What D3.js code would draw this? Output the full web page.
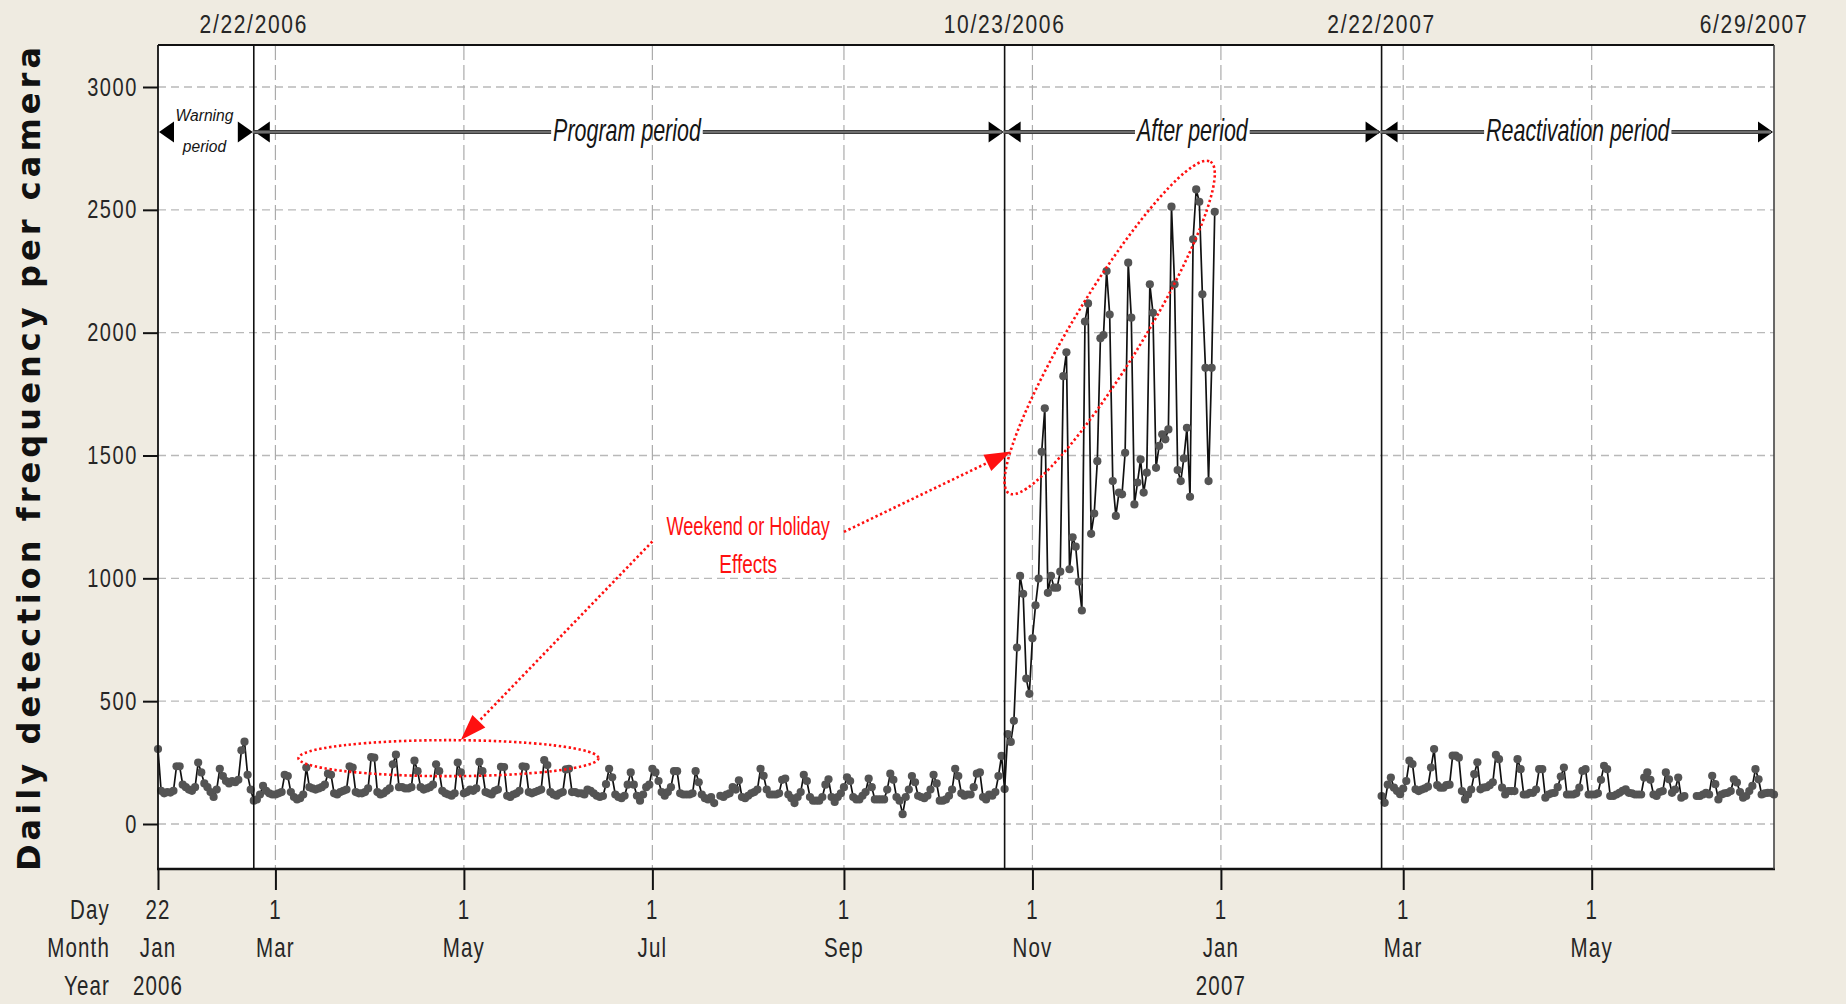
<!DOCTYPE html>
<html>
<head>
<meta charset="utf-8">
<script src="https://cdn.jsdelivr.net/npm/d3@7"></script>
<style>
  html, body { margin: 0; padding: 0; background: #efebe1; }
  svg { display: block; }
</style>
</head>
<body>
<svg id="chart" width="1846" height="1004"></svg>
<script>
// ---- Daily detections per camera (one value per day, null = no record) ----
const warningStart = "2006-01-22";
const warningValues = [305,135,125,130,128,135,235,235,160,150,140,135,150,250,210,165,150,130,110,140,225,195,175,165,175,170,180,300,335,200,140];

const programStart = "2006-02-22";
const programValues = [
  95,100,120,155,135,125,120,
  120,125,130,200,195,130,110,
  100,105,120,230,150,145,140,
  145,150,160,205,200,125,120,
  130,135,140,235,230,130,125,
  125,130,145,272,270,130,120,
  125,135,145,243,282,150,150,
  145,145,150,258,215,150,140,
  145,150,160,243,215,135,125,
  120,115,125,250,210,125,130,
  140,135,145,253,215,130,125,
  120,135,140,233,232,115,110,
  120,125,135,235,233,130,125,
  130,135,140,260,240,130,120,
  115,125,130,222,225,130,130,
  125,125,120,140,135,125,115,
  110,114,162,225,190,120,110,
  105,115,160,210,160,115,95,
  120,150,160,225,210,175,130,
  115,130,150,215,215,125,120,
  120,120,125,215,170,120,105,
  100,110,85,null,115,110,120,
  125,150,140,178,110,105,115,
  125,130,140,225,196,140,120,
  120,120,125,180,185,120,105,
  85,110,130,200,175,110,95,
  95,95,110,160,182,110,90,
  110,125,150,190,175,110,100,
  100,115,130,185,150,100,100,
  100,100,140,205,180,110,95,
  40,110,140,195,170,115,110,
  105,115,140,200,165,95,95,
  100,115,140,225,195,125,115,
  120,120,150,205,210,110,100,
  120,115,130,195,277
];

const afterStart = "2006-10-23";
const afterValues = [
  142,366,334,420,718,1010,937,
  592,530,756,890,999,1515,1692,
  941,1010,962,962,1027,1823,1920,
  1037,1167,1129,986,869,2045,2119,
  1181,1264,1477,1977,1990,2251,2074,
  1396,1254,1349,1342,1511,2285,2061,
  1301,1390,1484,1349,1430,2197,2081,
  1450,1539,1586,1566,1606,2513,2197,
  1441,1396,1488,1613,1332,2380,2583,
  2533,2156,1857,1396,1857,2492
];

const reactivationStart = "2007-02-22";
const reactivationValues = [
  114,86,160,189,148,134,121,
  144,175,258,244,141,134,140,
  145,152,230,305,158,148,148,
  158,160,278,278,270,134,100,
  120,140,203,251,141,148,150,
  158,170,281,264,148,120,134,
  134,134,264,223,120,120,127,
  127,140,223,223,107,120,125,
  127,150,193,230,120,120,120,
  125,148,216,223,120,120,120,
  125,180,237,223,114,114,120,
  127,135,141,127,125,120,120,
  120,189,210,180,120,114,130,
  134,210,182,127,140,189,107,
  114,null,null,null,114,114,120,
  127,120,196,162,100,120,125,
  127,134,182,169,130,107,114,
  134,155,223,182,120,125,127,
  127,120
];

// ---- Periods, axes and labels ----
const periodBounds = ["2006-01-22", "2006-02-22", "2006-10-23", "2007-02-22", "2007-06-29"];
const boundaryLabels = ["2/22/2006", "10/23/2006", "2/22/2007", "6/29/2007"];
const periodNames = [["Warning", "period"], ["Program period"], ["After period"], ["Reactivation period"]];
const periodLabelAt = [0.485, 0.497, 0.498, 0.5];   // label position along each arrow

const yTicks = [0, 500, 1000, 1500, 2000, 2500, 3000];
const xTickDates = ["2006-01-22", "2006-03-01", "2006-05-01", "2006-07-01", "2006-09-01", "2006-11-01", "2007-01-01", "2007-03-01", "2007-05-01"];
const xTickDay = ["22", "1", "1", "1", "1", "1", "1", "1", "1"];
const xTickMonth = ["Jan", "Mar", "May", "Jul", "Sep", "Nov", "Jan", "Mar", "May"];
const xTickYear = ["2006", "", "", "", "", "", "2007", "", ""];
const xRowNames = ["Day", "Month", "Year"];

const yTitle = "Daily detection frequency per camera";
const noteLines = ["Weekend or Holiday", "Effects"];
// annotation anchors in data units [date, value]
const noteAnchor = ["2006-08-01", 1185];
const noteArrows = [
  { from: ["2006-07-01", 1150], to: ["2006-04-30", 342] },
  { from: ["2006-09-01", 1189], to: ["2006-10-25", 1516] }
];
const noteRings = [
  { center: ["2006-04-26", 268], rx: 150, ry: 18, angle: 0 },
  { center: ["2006-11-26", 2021], rx: 194, ry: 35, angle: -58.7 }
];

// ---- Setup ----
const W = 1846, H = 1004;
const plot = { left: 158, right: 1774, top: 45, bottom: 869 };
const FONT = "'Liberation Sans', Arial, sans-serif";
const TEXT = "#262626";
const parse = d3.timeParse("%Y-%m-%d");
const bounds = periodBounds.map(parse);

const x = d3.scaleTime().domain([bounds[0], bounds[4]]).range([plot.left, plot.right]);
const y = d3.scaleLinear().domain([0, 3000]).range([824, 87]);

const svg = d3.select("#chart");

function squeeze(sel, k) {
  sel.each(function () {
    const t = d3.select(this);
    const x0 = +t.attr("x") || 0;
    t.attr("x", x0 / k).attr("transform", `scale(${k},1)`);
  });
}

function label(parent, px, py, str, o = {}) {
  const g = parent.append("g").attr("transform", `translate(${px},${py})`);
  const t = g.append("text")
    .attr("transform", `scale(${o.k || 1},1)`)
    .attr("text-anchor", o.anchor || "middle")
    .attr("font-family", o.family || FONT)
    .attr("font-size", o.size || 26)
    .attr("font-style", o.style || "normal")
    .attr("font-weight", o.weight || "normal")
    .attr("letter-spacing", o.spacing || 0)
    .attr("fill", o.fill || "#151515")
    .text(str);
  return t;
}

function expand(start, values) {
  const s = parse(start);
  return values.map((v, i) => ({ date: d3.timeDay.offset(s, i), value: v }));
}

const mainSeries = [
  ...expand(warningStart, warningValues),
  ...expand(programStart, programValues),
  ...expand(afterStart, afterValues)
];
const reactSeries = expand(reactivationStart, reactivationValues);

// background and plot area
svg.append("rect").attr("width", W).attr("height", H).attr("fill", "#efebe1");
svg.append("rect")
  .attr("x", plot.left).attr("y", plot.top)
  .attr("width", plot.right - plot.left).attr("height", plot.bottom - plot.top)
  .attr("fill", "#ffffff");

// gridlines
const grid = svg.append("g");
grid.selectAll("line.hgrid").data(yTicks).join("line").attr("class", "hgrid")
  .attr("x1", plot.left).attr("x2", plot.right)
  .attr("y1", d => y(d)).attr("y2", d => y(d))
  .attr("stroke", "#b9b9b9").attr("stroke-width", 1.3).attr("stroke-dasharray", "8,5");
grid.selectAll("line.vgrid").data(xTickDates.slice(1).map(parse)).join("line").attr("class", "vgrid")
  .attr("x1", d => x(d)).attr("x2", d => x(d))
  .attr("y1", plot.top).attr("y2", plot.bottom)
  .attr("stroke", "#ababab").attr("stroke-width", 1.2).attr("stroke-dasharray", "15,5");

// data
const line = d3.line()
  .defined(d => d.value != null)
  .x(d => x(d.date))
  .y(d => y(d.value));

const dataG = svg.append("g");
[mainSeries, reactSeries].forEach(series => {
  dataG.append("path").datum(series)
    .attr("d", line)
    .attr("fill", "none")
    .attr("stroke", "#111")
    .attr("stroke-width", 1.7);
});
dataG.selectAll("circle")
  .data([...mainSeries, ...reactSeries].filter(d => d.value != null))
  .join("circle")
  .attr("cx", d => x(d.date))
  .attr("cy", d => y(d.value))
  .attr("r", 4.1)
  .attr("fill", "#545454");

// period boundary lines
svg.append("g").selectAll("line").data(bounds.slice(1, 4)).join("line")
  .attr("x1", d => x(d)).attr("x2", d => x(d))
  .attr("y1", plot.top).attr("y2", plot.bottom)
  .attr("stroke", "#111").attr("stroke-width", 1.6);

// plot frame
const frame = svg.append("g");
frame.append("line").attr("x1", plot.left).attr("x2", plot.right).attr("y1", plot.top).attr("y2", plot.top)
  .attr("stroke", "#111").attr("stroke-width", 2.2);
frame.append("line").attr("x1", plot.left - 1).attr("x2", plot.right + 1).attr("y1", plot.bottom).attr("y2", plot.bottom)
  .attr("stroke", "#111").attr("stroke-width", 2.6);
frame.append("line").attr("x1", plot.left).attr("x2", plot.left).attr("y1", plot.top).attr("y2", plot.bottom)
  .attr("stroke", "#111").attr("stroke-width", 1.8);
frame.append("line").attr("x1", plot.right).attr("x2", plot.right).attr("y1", plot.top).attr("y2", plot.bottom)
  .attr("stroke", "#444").attr("stroke-width", 1.6);

// period arrows
const arrowY = 132, headLen = 15, headHalf = 10.5;
const arrows = svg.append("g");
function head(tipX, dir) {
  arrows.append("path")
    .attr("d", `M${tipX},${arrowY} L${tipX - dir * headLen},${arrowY - headHalf} L${tipX - dir * headLen},${arrowY + headHalf} Z`)
    .attr("fill", "#000");
}
function shaft(xa, xb) {
  if (xb <= xa) return;
  arrows.append("line").attr("x1", xa).attr("x2", xb).attr("y1", arrowY).attr("y2", arrowY)
    .attr("stroke", "#3c3c3c").attr("stroke-width", 4);
  arrows.append("line").attr("x1", xa).attr("x2", xb).attr("y1", arrowY).attr("y2", arrowY)
    .attr("stroke", "#a0a0a0").attr("stroke-width", 1.2);
}
periodNames.forEach((names, i) => {
  const x0 = x(bounds[i]) + 1, x1 = x(bounds[i + 1]) - 1;
  const cx = x0 + periodLabelAt[i] * (x1 - x0);
  head(x0, -1);
  head(x1, 1);
  if (names.length === 2) {
    label(arrows, cx, 121, names[0], { size: 17, k: 0.92, style: "italic" });
    label(arrows, cx, 152, names[1], { size: 17, k: 0.92, style: "italic" });
  } else {
    const k = 0.67;
    const t = label(arrows, cx, 141, names[0], { size: 32, k: k, style: "italic" });
    const w = t.node().getComputedTextLength() * k;
    shaft(x0 - 2, cx - w / 2 - 2);
    shaft(cx + w / 2 + 2, x1 - 2);
  }
});

// boundary date labels above the plot
const topLabels = svg.append("g");
boundaryLabels.forEach((s, i) => {
  const px = i === boundaryLabels.length - 1 ? x(bounds[i + 1]) - 20 : x(bounds[i + 1]);
  label(topLabels, px, 33, s, { size: 25, k: 0.84, spacing: 2, fill: TEXT });
});

// y axis
const yAxis = svg.append("g").attr("transform", `translate(${plot.left},0)`)
  .call(d3.axisLeft(y).tickValues(yTicks).tickSize(15).tickPadding(5).tickFormat(d3.format("d")));
yAxis.select(".domain").remove();
yAxis.selectAll(".tick line").attr("stroke", "#111").attr("stroke-width", 2);
yAxis.selectAll(".tick text")
  .attr("font-family", FONT).attr("font-size", 25).attr("fill", TEXT)
  .attr("letter-spacing", 2)
  .call(squeeze, 0.8);

// x axis ticks and three label rows
const xDates = xTickDates.map(parse);
const xAxis = svg.append("g").attr("transform", `translate(0,${plot.bottom})`)
  .call(d3.axisBottom(x).tickValues(xDates).tickSize(21).tickFormat(() => ""));
xAxis.select(".domain").remove();
xAxis.selectAll(".tick line").attr("stroke", "#111").attr("stroke-width", 2);

const rowY = [919, 957, 995];
const rows = [xTickDay, xTickMonth, xTickYear];
const xLabels = svg.append("g");
rows.forEach((labels, r) => {
  label(xLabels, 110, rowY[r], xRowNames[r], { size: 27, k: 0.76, spacing: 1.5, anchor: "end", fill: TEXT });
  labels.forEach((s, i) => {
    if (s) label(xLabels, x(xDates[i]), rowY[r], s, { size: 27, k: 0.76, spacing: 1.5, fill: TEXT });
  });
});

// y axis title
svg.append("text")
  .attr("transform", `translate(40,${(plot.top + plot.bottom) / 2 + 2}) rotate(-90)`)
  .attr("text-anchor", "middle")
  .attr("font-family", "'DejaVu Sans', Verdana, sans-serif")
  .attr("font-weight", "bold")
  .attr("font-size", 32)
  .attr("fill", "#111")
  .attr("textLength", 824)
  .attr("lengthAdjust", "spacing")
  .text(yTitle);

// weekend / holiday annotation
const red = "#ff1010";
const note = svg.append("g");
const pt = p => [x(parse(p[0])), y(p[1])];
const [nx, ny] = pt(noteAnchor);
label(note, nx, ny + 2, noteLines[0], { size: 26, k: 0.7, fill: red });
label(note, nx, ny + 40, noteLines[1], { size: 26, k: 0.73, fill: red });

noteRings.forEach(r => {
  const [cx, cy] = pt(r.center);
  note.append("ellipse")
    .attr("transform", `translate(${cx},${cy}) rotate(${r.angle})`)
    .attr("rx", r.rx).attr("ry", r.ry)
    .attr("fill", "none").attr("stroke", red)
    .attr("stroke-width", 2.6).attr("stroke-dasharray", "2.4,2.6");
});

noteArrows.forEach(a => {
  const [x1, y1] = pt(a.from);
  const [x2, y2] = pt(a.to);
  const ang = Math.atan2(y2 - y1, x2 - x1);
  const L = 26, hw = 9;
  const bx = x2 - L * Math.cos(ang), by = y2 - L * Math.sin(ang);
  note.append("line")
    .attr("x1", x1).attr("y1", y1).attr("x2", bx).attr("y2", by)
    .attr("stroke", red).attr("stroke-width", 2.6).attr("stroke-dasharray", "2.4,2.6");
  const px = -Math.sin(ang), py = Math.cos(ang);
  note.append("path")
    .attr("d", `M${x2},${y2} L${bx + px * hw},${by + py * hw} L${bx - px * hw},${by - py * hw} Z`)
    .attr("fill", red);
});
</script>
</body>
</html>
